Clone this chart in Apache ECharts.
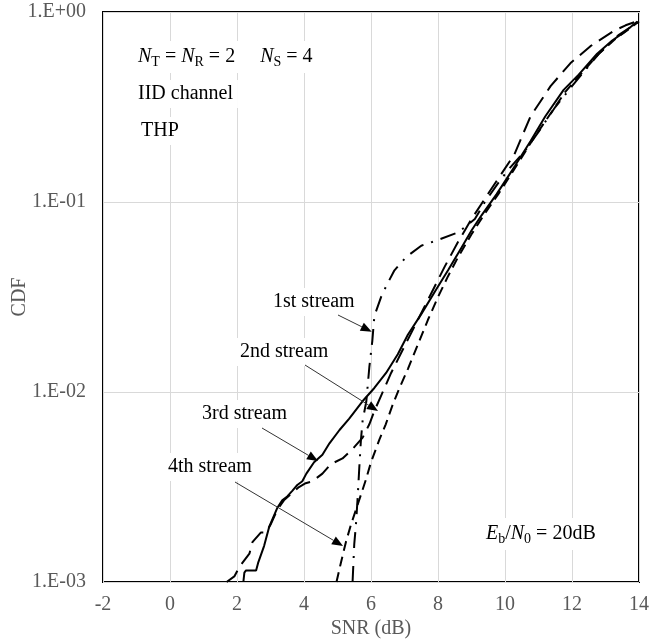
<!DOCTYPE html>
<html>
<head>
<meta charset="utf-8">
<script src="https://cdn.jsdelivr.net/npm/echarts@6/dist/echarts.min.js"></script>
<style>
html,body{margin:0;padding:0;background:#fff;}
#chart{width:662px;height:642px;}
</style>
</head>
<body>
<div id="chart"></div>
<script>
// ---------- data ----------
const xTickValues = [-2, 0, 2, 4, 6, 8, 10, 12, 14];
const yTickLabels = ['1.E-03', '1.E-02', '1.E-01', '1.E+00'];

// 1st stream (dash-dot)
const stream1X = [5.45, 5.5, 5.55, 5.6, 5.65, 5.7, 5.75, 5.86, 5.95, 6.04, 6.1, 6.3, 6.46, 6.7, 7.05, 7.5, 8.0, 8.6, 9.1, 9.4, 9.8, 10.1, 10.6, 11.0, 11.5, 12.0, 12.8, 13.4, 14.0];
const stream1Y = [0.001, 0.00158, 0.002, 0.00275, 0.00398, 0.00562, 0.00708, 0.00891, 0.0135, 0.0186, 0.0251, 0.0316, 0.0363, 0.0437, 0.0513, 0.0589, 0.0631, 0.0692, 0.0813, 0.100, 0.126, 0.148, 0.186, 0.234, 0.316, 0.407, 0.603, 0.759, 0.891];

// 2nd stream (long dash)
const stream2X = [1.69, 1.92, 2.07, 2.37, 2.46, 2.71, 2.86, 3.0, 3.2, 3.4, 3.65, 3.85, 4.05, 4.25, 4.55, 4.8, 5.15, 5.45, 5.75, 5.95, 6.1, 6.3, 6.6, 7.0, 7.4, 7.8, 8.2, 8.6, 9.0, 9.56, 9.86, 10.28, 10.76, 11.36, 11.95, 12.55, 13.24, 13.6, 14.0];
const stream2Y = [0.001, 0.00107, 0.0012, 0.00141, 0.00162, 0.00182, 0.00182, 0.002, 0.0024, 0.00269, 0.00295, 0.00316, 0.00331, 0.00339, 0.00372, 0.00417, 0.00447, 0.00501, 0.00575, 0.00676, 0.00794, 0.00955, 0.0126, 0.0174, 0.024, 0.0331, 0.0457, 0.0617, 0.0813, 0.115, 0.138, 0.178, 0.282, 0.407, 0.537, 0.661, 0.794, 0.851, 0.902];

// 3rd stream (solid)
const stream3X = [2.19, 2.22, 2.27, 2.57, 2.63, 2.81, 2.96, 3.2, 3.35, 3.5, 3.65, 3.8, 3.95, 4.07, 4.3, 4.55, 4.76, 5.06, 5.35, 5.74, 6.1, 6.45, 6.8, 7.1, 7.5, 7.95, 8.3, 8.7, 9.0, 9.3, 9.75, 10.3, 10.76, 11.2, 11.75, 12.2, 12.75, 13.2, 13.53, 13.95];
const stream3Y = [0.001, 0.00112, 0.00115, 0.00115, 0.00126, 0.00155, 0.00195, 0.00245, 0.00269, 0.00282, 0.00302, 0.00324, 0.00339, 0.00372, 0.00427, 0.00468, 0.00537, 0.00631, 0.00724, 0.00891, 0.0105, 0.0126, 0.0158, 0.02, 0.0257, 0.0347, 0.0437, 0.0575, 0.0708, 0.0851, 0.110, 0.155, 0.209, 0.282, 0.389, 0.468, 0.603, 0.708, 0.776, 0.891];

// 4th stream (short dash)
const stream4X = [4.97, 5.1, 5.25, 5.4, 5.55, 5.7, 5.85, 6.0, 6.25, 6.44, 6.64, 6.85, 7.1, 7.4, 7.7, 8.0, 8.3, 8.6, 9.0, 9.4, 9.8, 10.3, 10.8, 11.3, 11.8, 12.3, 12.8, 13.3, 13.7, 14.0];
const stream4Y = [0.001, 0.00126, 0.00162, 0.002, 0.0024, 0.00288, 0.00347, 0.00427, 0.00562, 0.00676, 0.00851, 0.0105, 0.0132, 0.0178, 0.024, 0.0316, 0.0407, 0.0513, 0.0676, 0.0871, 0.110, 0.151, 0.209, 0.282, 0.380, 0.479, 0.603, 0.724, 0.813, 0.891];

// ---------- helpers ----------
function zip(xs, ys) { return xs.map((x, i) => [x, ys[i]]); }
const FONT = "'Liberation Serif', 'Times New Roman', serif";

function arrow(x1, y1, x2, y2) {
  const dx = x2 - x1, dy = y2 - y1, L = Math.hypot(dx, dy);
  const ux = dx / L, uy = dy / L, hl = 11, hw = 4.5;
  const bx = x2 - ux * hl, by = y2 - uy * hl;
  return [
    { type: 'line', z: 5, shape: { x1: x1, y1: y1, x2: bx, y2: by }, style: { stroke: '#333', lineWidth: 1 } },
    { type: 'polygon', z: 5, shape: { points: [[x2, y2], [bx - uy * hw, by + ux * hw], [bx + uy * hw, by - ux * hw]] }, style: { fill: '#000' } }
  ];
}

const richStyles = {
  n: { fontFamily: FONT, fontSize: 20, lineHeight: 24, fill: '#000' },
  i: { fontFamily: FONT, fontSize: 20, lineHeight: 24, fontStyle: 'italic', fill: '#000' },
  s: { fontFamily: FONT, fontSize: 14, lineHeight: 14, padding: [10, 0, 0, 0], fill: '#000' }
};

function label(x, y, text, rich) {
  return {
    type: 'text', z: 4, x: x, y: y,
    style: {
      text: text, fontFamily: FONT, fontSize: 20, fill: '#000',
      verticalAlign: 'middle', align: 'left',
      backgroundColor: '#fff', padding: [4, 5, 4, 5],
      rich: rich ? richStyles : undefined
    }
  };
}

const chart = echarts.init(document.getElementById('chart'), null, { renderer: 'canvas' });

const graphics = [
  label(133, 57, '{i|N}{s|T}{n| = }{i|N}{s|R}{n| = 2     }{i|N}{s|S}{n| = 4}', true),
  label(133, 94, 'IID channel'),
  label(136, 131, 'THP'),
  label(268, 302, '1st stream'),
  label(235, 352, '2nd stream'),
  label(197, 414, '3rd stream'),
  label(163, 467, '4th stream'),
  label(481, 534, '{i|E}{s|b}{n|/}{i|N}{s|0}{n| = 20dB}', true)
].concat(
  arrow(338, 315, 371.7, 331.7),
  arrow(305, 365, 378, 411),
  arrow(262, 428, 318, 461),
  arrow(235, 482, 343, 546)
);

const option = {
  animation: false,
  backgroundColor: '#fff',
  grid: {
    left: 103, top: 12, width: 536, height: 570,
    outerBoundsMode: 'none', containLabel: false,
    show: true, borderColor: '#000', borderWidth: 2, backgroundColor: 'transparent'
  },
  xAxis: {
    type: 'value', min: xTickValues[0], max: xTickValues[xTickValues.length - 1], interval: 2,
    name: 'SNR (dB)', nameLocation: 'middle', nameGap: 37, nameMoveOverlap: false,
    nameTextStyle: { color: '#595959', fontFamily: FONT, fontSize: 20 },
    axisLine: { show: false }, axisTick: { show: false },
    axisLabel: { color: '#595959', fontFamily: FONT, fontSize: 20, margin: 13, showMinLabel: true, showMaxLabel: true },
    splitLine: { show: true, lineStyle: { color: '#d9d9d9', width: 1 } }
  },
  yAxis: {
    type: 'log', logBase: 10, min: 0.001, max: 1,
    name: 'CDF', nameLocation: 'middle', nameGap: 73, nameRotate: 90, nameMoveOverlap: false,
    nameTextStyle: { color: '#595959', fontFamily: FONT, fontSize: 20 },
    axisLine: { show: false }, axisTick: { show: false },
    axisLabel: {
      color: '#595959', fontFamily: FONT, fontSize: 20, margin: 17,
      formatter: function (v) { const e = Math.round(Math.log10(v)); return yTickLabels[e + 3]; }
    },
    splitLine: { show: true, lineStyle: { color: '#d9d9d9', width: 1 } }
  },
  series: [
    { name: '1st stream', type: 'line', data: zip(stream1X, stream1Y), showSymbol: false, z: 3,
      lineStyle: { color: '#000', width: 2, type: [16, 8, 2, 8] } },
    { name: '2nd stream', type: 'line', data: zip(stream2X, stream2Y), showSymbol: false, z: 3,
      lineStyle: { color: '#000', width: 2, type: [16, 8] } },
    { name: '3rd stream', type: 'line', data: zip(stream3X, stream3Y), showSymbol: false, z: 3,
      lineStyle: { color: '#000', width: 2, type: 'solid' } },
    { name: '4th stream', type: 'line', data: zip(stream4X, stream4Y), showSymbol: false, z: 3,
      lineStyle: { color: '#000', width: 2, type: [10, 6] } }
  ],
  graphic: graphics
};
chart.setOption(option);
</script>
</body>
</html>
